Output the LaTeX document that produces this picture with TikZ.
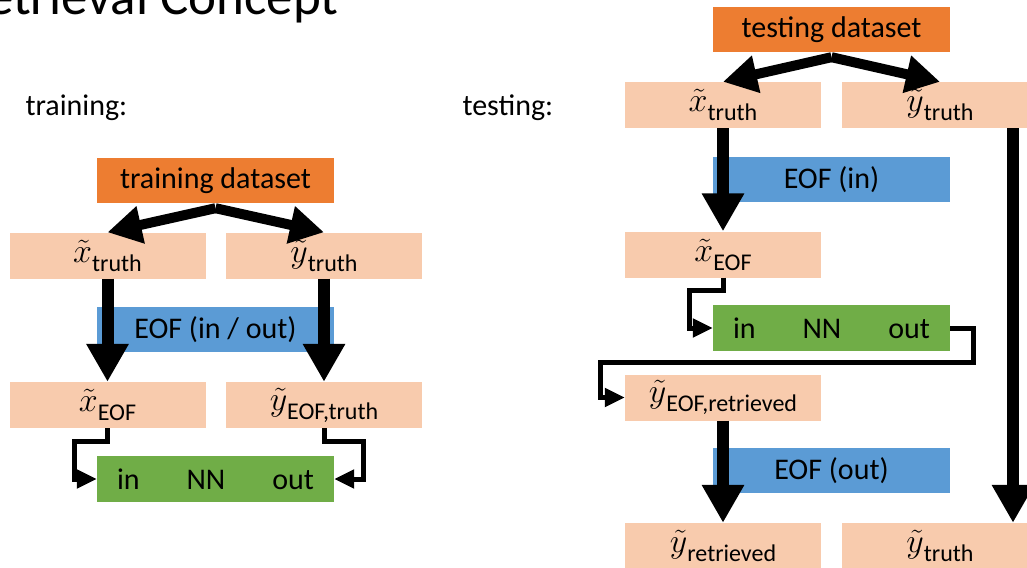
\RequirePackage{fix-cm}
\documentclass[tikz,border=0pt]{standalone}
\usepackage{amsmath}
\usepackage{fontspec}
\setmainfont{Carlito}
\usepackage{tikz}
\usetikzlibrary{arrows.meta,calc}
\definecolor{dataorange}{HTML}{ED7D31}
\definecolor{varpeach}{HTML}{F8CBAD}
\definecolor{eofblue}{HTML}{5B9BD5}
\definecolor{nngreen}{HTML}{70AD47}
% tilde variable with an upright subscript
\newcommand{\tvar}[2]{{\fontsize{34pt}{36pt}\selectfont$\tilde{#1}$}\raisebox{-0.3em}{\fontsize{24pt}{26pt}\selectfont #2}}
\tikzstyle{databox} = [fill=dataorange, minimum width=237pt, minimum height=45pt, inner sep=0pt]
\tikzstyle{varbox} = [fill=varpeach, minimum width=196pt, minimum height=46pt, inner sep=0pt]
\tikzstyle{eofbox} = [fill=eofblue, minimum width=237pt, minimum height=45pt, inner sep=0pt]
\tikzstyle{nnbox} = [fill=nngreen, text width=197pt, minimum height=46pt, inner xsep=20pt, inner ysep=0pt]
\tikzstyle{forkarrow} = [line width=10pt, -{Triangle[width=36pt,length=34pt]}]
\tikzstyle{flowarrow} = [line width=12pt, -{Triangle[width=40pt,length=38pt]}]
\tikzstyle{elbowarrow} = [line width=5pt, -{Triangle[width=18pt,length=20pt]}]
\begin{document}
\begin{tikzpicture}[x=1pt, y=-1pt, font=\fontsize{30pt}{36pt}\selectfont]
	\useasboundingbox (0,0) rectangle (1027,567);
	\clip (0,0) rectangle (1027,567);
	\node[anchor=base east, font=\fontsize{53pt}{60pt}\selectfont] (title) at (342,15) {Retrieval Concept};
	\node[anchor=west] (trainlabel) at (22,108) {training:};
	\node[anchor=west] (testlabel) at (459,108) {testing:};

	% training
	\node[databox] (train) at (215.5,180.5) {training dataset};
	\node[varbox] (lxtr) at (107.5,255.5) {\tvar{x}{truth}};
	\node[varbox] (lytr) at (324,255.5) {\tvar{y}{truth}};
	\node[eofbox] (leof) at (215.5,329.5) {EOF (in / out)};
	\node[varbox] (lxeof) at (107.5,405) {\tvar{x}{EOF}};
	\node[varbox] (lyeof) at (324,405) {\tvar{y}{EOF,truth}};
	\node[nnbox] (lnn) at (215.5,479) {in\hfill NN\hfill out};

	\draw[forkarrow] ([yshift=-5pt]train.south) -- (lxtr.north);
	\draw[forkarrow] ([yshift=-5pt]train.south) -- (lytr.north);
	\draw[flowarrow] (lxtr.south) -- (lxeof.north);
	\draw[flowarrow] (lytr.south) -- (lyeof.north);
	\draw[elbowarrow] (lxeof.south) -- ++(0,13) -| ($(lnn.west)+(-22,0)$) -- (lnn.west);
	\draw[elbowarrow] (lyeof.south) -- ++(0,13) -| ($(lnn.east)+(29,0)$) -- (lnn.east);

	% testing
	\node[databox] (test) at (831.5,29.5) {testing dataset};
	\node[varbox] (rxtr) at (723,105) {\tvar{x}{truth}};
	\node[varbox] (rytr) at (940,105) {\tvar{y}{truth}};
	\node[eofbox] (reofin) at (831.5,179.5) {EOF (in)};
	\node[varbox] (rxeof) at (723,254.5) {\tvar{x}{EOF}};
	\node[nnbox] (rnn) at (831.5,328) {in\hfill NN\hfill out};
	\node[varbox] (ryeof) at (723,397.5) {\tvar{y}{EOF,retrieved}};
	\node[eofbox] (reofout) at (831.5,470.5) {EOF (out)};
	\node[varbox] (ryret) at (723,546) {\tvar{y}{retrieved}};
	\node[varbox] (rybot) at (940,546) {\tvar{y}{truth}};

	\draw[forkarrow] ([yshift=-5pt]test.south) -- (rxtr.north);
	\draw[forkarrow] ([yshift=-5pt]test.south) -- (rytr.north);
	\draw[flowarrow] (rxtr.south) -- (rxeof.north);
	\draw[elbowarrow] (rxeof.south) -- ++(0,13) -| ($(rnn.west)+(-23,0)$) -- (rnn.west);
	\draw[elbowarrow] (rnn.east) -- ++(23,0) -- ++(0,34) -| ($(ryeof.west)+(-24,0)$) -- (ryeof.west);
	\draw[flowarrow] (ryeof.south) -- (ryret.north);
	\draw[flowarrow] ([xshift=73pt]rytr.south) -- ([xshift=73pt]rybot.north);
\end{tikzpicture}
\end{document}
